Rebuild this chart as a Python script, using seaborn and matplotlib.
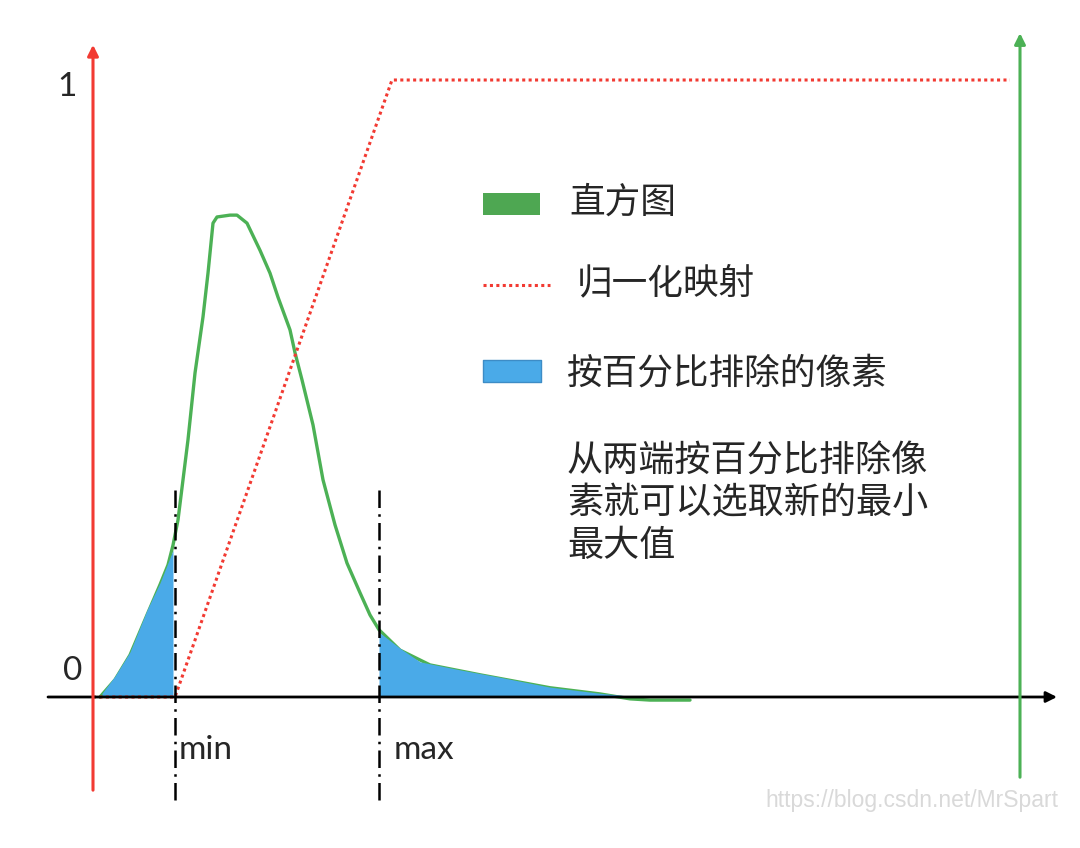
"""
Percentile clipping diagram: histogram, normalisation mapping and
the pixels excluded from both tails before picking new min / max.
"""

import matplotlib
matplotlib.use("Agg")
import matplotlib.pyplot as plt
import seaborn as sns
import pandas as pd

# ── data (x in intensity units, y normalised 0..1) ──
hist_x = [100, 115, 130, 147, 160, 168, 173, 178, 183, 188, 195, 203, 208, 213,
          217, 230, 237, 247, 260, 270, 278, 290, 295, 302, 313, 323, 335, 347,
          360, 370, 379, 400, 430, 480, 550, 600, 630, 650, 690]
hist_y = [0.0, 0.028, 0.068, 0.133, 0.182, 0.214, 0.246, 0.287, 0.352, 0.417,
          0.525, 0.616, 0.687, 0.768, 0.778, 0.781, 0.781, 0.768, 0.724, 0.687,
          0.648, 0.595, 0.558, 0.514, 0.441, 0.352, 0.279, 0.217, 0.169, 0.133,
          0.109, 0.076, 0.052, 0.036, 0.015, 0.005, -0.003, -0.005, -0.005]

low_tail_x = [102, 115, 130, 147, 160, 173]
low_tail_y = [0.006, 0.034, 0.073, 0.141, 0.185, 0.238]
high_tail_x = [379, 400, 420, 460, 500, 550, 600, 640]
high_tail_y = [0.105, 0.079, 0.057, 0.044, 0.032, 0.016, 0.006, 0.0]

map_x = [93, 175, 392, 1010]
map_y = [0.0, 0.0, 1.0, 1.0]

new_min = 175
new_max = 379

legend_labels = ["直方图", "归一化映射", "按百分比排除的像素"]
note_lines = ["从两端按百分比排除像", "素就可以选取新的最小", "最大值"]

GREEN = "#4cb155"
RED = "#f23a32"
BLUE = "#4aaae8"

sns.set_theme(style="white")
plt.rcParams["font.family"] = ["Lato", "Noto Sans CJK SC", "DejaVu Sans"]
CJK = ["Noto Sans CJK SC", "DejaVu Sans"]

fig = plt.figure(figsize=(10.8, 8.48), dpi=100)
ax = fig.add_axes([0, 0, 1, 1])
ax.set_xlim(0, 1080)
ax.set_ylim((697 - 848) / 617, 697 / 617)
ax.axis("off")

# ── excluded tails ──
ax.fill_between(low_tail_x, 0, low_tail_y, color=BLUE, lw=0, zorder=3)
ax.fill_between(high_tail_x, 0, high_tail_y, color=BLUE, lw=0, zorder=3)

# ── histogram curve and mapping ──
hist_df = pd.DataFrame({"x": hist_x, "y": hist_y})
sns.lineplot(data=hist_df, x="x", y="y", color=GREEN, lw=2.4,
             estimator=None, ax=ax, zorder=2,
             solid_joinstyle="round", solid_capstyle="round")
map_df = pd.DataFrame({"x": map_x, "y": map_y})
sns.lineplot(data=map_df, x="x", y="y", color=RED, lw=2.2,
             linestyle=(0, (1, 1.1)), estimator=None, ax=ax, zorder=4)

# ── axes arrows ──
arrow = dict(arrowstyle="-|>", mutation_scale=16, shrinkA=0, shrinkB=0)
ax.annotate("", xy=(1057, 0), xytext=(48, 0),
            arrowprops=dict(arrow, color="black", lw=2.0), zorder=5)
ax.annotate("", xy=(93, 1.057), xytext=(93, -0.151),
            arrowprops=dict(arrow, color=RED, lw=2.2), zorder=5)
ax.annotate("", xy=(1020, 1.076), xytext=(1020, -0.130),
            arrowprops=dict(arrow, color=GREEN, lw=2.2), zorder=5)

# ── new min / max markers ──
for xv in (new_min, new_max):
    ax.plot([xv, xv], [-0.167, 0.335], color="black", lw=1.8,
            linestyle=(0, (7, 2.5, 1, 2.5)), zorder=6)

ax.text(57, 0.989, "1", fontsize=24, va="center", ha="left")
ax.text(63, 0.042, "0", fontsize=24, va="center", ha="left")
ax.text(new_min + 4, -0.086, "min", fontsize=24, va="center", ha="left")
ax.text(new_max + 15, -0.086, "max", fontsize=24, va="center", ha="left")

# ── hand-drawn legend ──
ax.fill_between([483, 540], 0.781, 0.817, color="#4ea752", lw=0)
ax.plot([483, 550], [0.668, 0.668], color=RED, lw=2.2, linestyle=(0, (1, 1.1)))
ax.fill_between([483, 541], 0.511, 0.546, color=BLUE, edgecolor="#3d8cc6", lw=1)
ax.text(569, 0.801, legend_labels[0], fontsize=25.7, family=CJK, va="center")
ax.text(577, 0.671, legend_labels[1], fontsize=25.7, family=CJK, va="center")
ax.text(567, 0.524, legend_labels[2], fontsize=25.7, family=CJK, va="center")

for i, line in enumerate(note_lines):
    ax.text(567, 0.381 - i * 0.068, line, fontsize=26, family=CJK, va="center")

ax.text(1058, -0.167, "https://blog.csdn.net/MrSpart", fontsize=16.5,
        family=["Liberation Sans"], color="#d9d9d9", ha="right", va="center")

fig.savefig("out.png", dpi=100)
plt.close(fig)
